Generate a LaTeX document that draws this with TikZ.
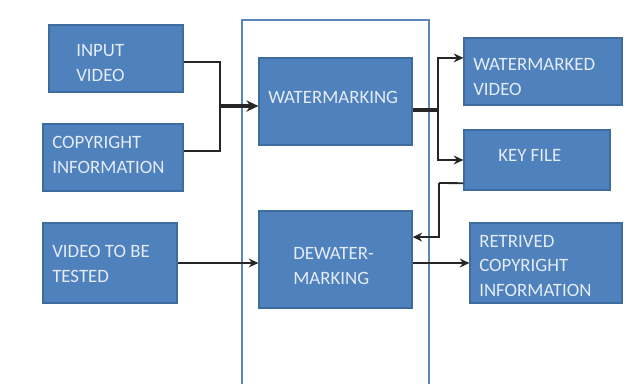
\documentclass[tikz,border=0pt]{standalone}
\usepackage{fontspec}
\setmainfont{Carlito}
\usetikzlibrary{arrows.meta}
\definecolor{boxfill}{HTML}{4F81BD}
\definecolor{boxline}{HTML}{3F6C9F}
\definecolor{boxtext}{HTML}{E4ECF6}
\definecolor{frameline}{HTML}{5B87BF}
\tikzset{
  blk/.style={draw=boxline,fill=boxfill,line width=0.8pt,inner sep=0pt},
  lbl/.style={anchor=west,align=left,inner sep=0pt,text=boxtext,font=\fontsize{13.4}{17.7}\selectfont},
  conn/.style={-{Stealth[length=2.4mm,width=2.2mm]},line width=1.3pt,draw=black!85},
  plain/.style={line width=1.3pt,draw=black!85},
  thick/.style={line width=2.6pt,draw=black!85},
  frame/.style={draw=frameline,line width=0.9pt}
}
\begin{document}
\begin{tikzpicture}[x=0.025cm,y=-0.025cm]
  \useasboundingbox (0,0) rectangle (636,383);
  \draw[frame] (242,20) rectangle (429,400);

  % left column
  \node[blk,minimum width=3.35cm,minimum height=1.675cm] (input) at (116,58.5) {};
  \node[blk,minimum width=3.5cm,minimum height=1.675cm] (copy) at (113,157.5) {};
  \node[blk,minimum width=3.35cm,minimum height=2cm] (vtest) at (110,263) {};
  \node[lbl] (inputlbl) at (76,63) {INPUT\\VIDEO};
  \node[lbl] (copylbl) at (52,154.5) {COPYRIGHT\\INFORMATION};
  \node[lbl] (vtestlbl) at (52,263.5) {VIDEO TO BE\\TESTED};

  % middle column
  \node[blk,minimum width=3.825cm,minimum height=2.175cm] (wm) at (335.5,101.5) {};
  \node[blk,minimum width=3.825cm,minimum height=2.425cm] (dewm) at (335.5,259.5) {};
  \node[lbl] (wmlbl) at (268,97) {WATERMARKING};
  \node[lbl] (dewmlbl) at (293,266) {DEWATER-\\MARKING};

  % right column
  \node[blk,minimum width=3.95cm,minimum height=1.675cm] (wmv) at (543,71.5) {};
  \node[blk,minimum width=3.65cm,minimum height=1.5cm] (key) at (537,160) {};
  \node[blk,minimum width=3.8cm,minimum height=2cm] (ret) at (546,263) {};
  \node[lbl] (wmvlbl) at (473,77) {WATERMARKED\\VIDEO};
  \node[lbl] (keylbl) at (498,155) {KEY FILE};
  \node[lbl] (retlbl) at (479,266) {RETRIVED\\COPYRIGHT\\INFORMATION};

  \coordinate (jin) at (220,106);
  \coordinate (jout) at (438,110);
  \coordinate (jkey) at (439,183);

  \draw[plain] ([yshift=-0.09cm]input.east) -| (jin);
  \draw[plain] ([yshift=0.16cm]copy.east) -| (jin);
  \draw[thick,-{Stealth[length=3mm,width=2.8mm]}] (jin) -- (jin -| wm.west);
  \draw[thick] (jout -| wm.east) -- (jout);
  \draw[conn] (jout) |- ([yshift=0.34cm]wmv.west);
  \draw[conn] (jout) |- (key.west);
  \draw[plain] ([yshift=-0.58cm]key.west) -- (jkey);
  \draw[conn] (jkey) |- ([yshift=0.56cm]dewm.east);
  \draw[conn] (vtest.east) -- (vtest.east -| dewm.west);
  \draw[conn] (ret.west -| dewm.east) -- (ret.west);
\end{tikzpicture}
\end{document}
